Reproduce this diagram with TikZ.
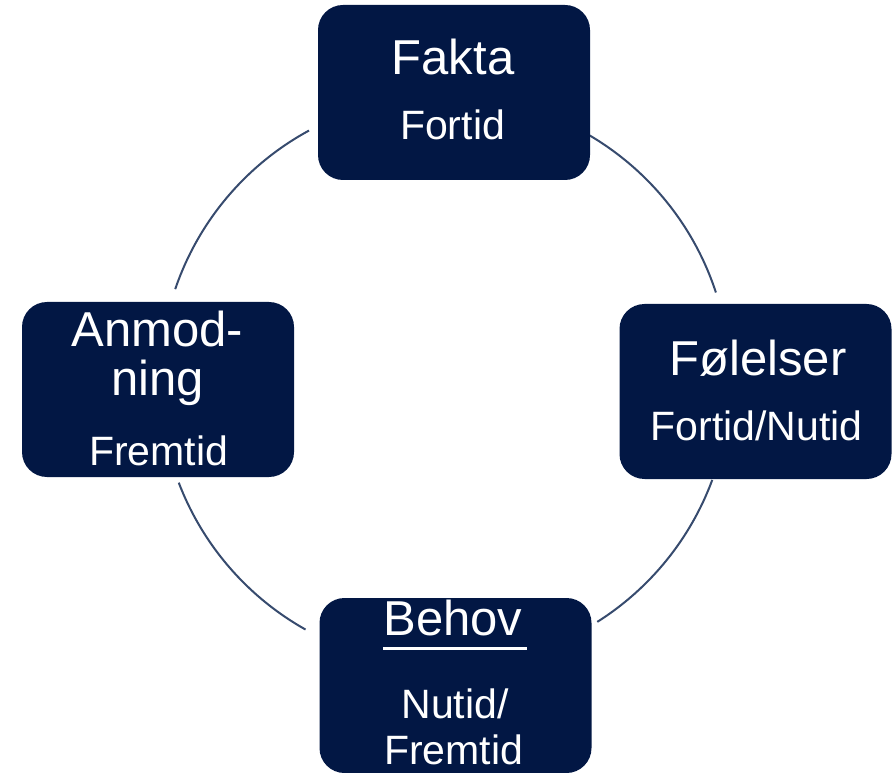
\documentclass[tikz,border=0pt]{standalone}
\usepackage{fontspec}
\setmainfont{Liberation Sans}
\usepackage{xcolor}
\usepackage{tikz}
\definecolor{boxblue}{RGB}{2,23,68}
\definecolor{ringline}{RGB}{55,75,110}

\begin{document}
\begin{tikzpicture}[x=0.75pt,y=0.75pt,yscale=1,xscale=1,
    feltboks/.style={fill=boxblue, rounded corners=18.75pt, minimum width=204pt, minimum height=131.25pt, inner sep=0pt},
    overskrift/.style={anchor=base, white, inner sep=0pt, font=\fontsize{36.75}{44}\selectfont},
    undertekst/.style={anchor=base, white, inner sep=0pt, font=\fontsize{30.75}{37}\selectfont},
    ring/.style={ringline, line width=1.5pt}]
            %ramme
            \useasboundingbox (0,0) rectangle (892,772);
            %sirkel
            \coordinate (midt) at (445,391);
            \foreach \fra/\til in {118.5/161.2, 59.5/18.1, 200.9/240.7, -20.3/-57.7} {
                \draw [ring] ([shift={(\fra:285)}]midt) arc [start angle=\fra, end angle=\til, radius=285];
            }
            %
            %Fakta
            \node [feltboks] (fakta) at (454,679.5) {};
            \node [overskrift] (fakta-tittel) at (453,697) {Fakta};
            \node [undertekst] (fakta-tid) at (452.5,632) {Fortid};
            %Folelser
            \node [feltboks] (folelser) at (755.5,380.5) {};
            \node [overskrift] (folelser-tittel) at (758,397) {Følelser};
            \node [undertekst] (folelser-tid) at (756.5,332) {Fortid/Nutid};
            %Anmodning
            \node [feltboks] (anmodning) at (158,382.5) {};
            \node [overskrift] (anmodning-tittel) at (157.5,425) {Anmod-};
            \node [overskrift] (anmodning-tittel2) at (157.5,377) {ning};
            \node [undertekst] (anmodning-tid) at (158.5,307) {Fremtid};
            %Behov
            \node [feltboks] (behov) at (455.5,86.5) {};
            \node [overskrift] (behov-tittel) at (453,137) {Behov};
            \draw [white, line width=2.25pt] ([yshift=-9.75pt]behov-tittel.base west) -- ([yshift=-9.75pt, xshift=3pt]behov-tittel.base east);
            \node [undertekst] (behov-tid) at (455,54) {Nutid/};
            \node [undertekst] (behov-tid2) at (453.5,8) {Fremtid};
            %
\end{tikzpicture}
\end{document}
